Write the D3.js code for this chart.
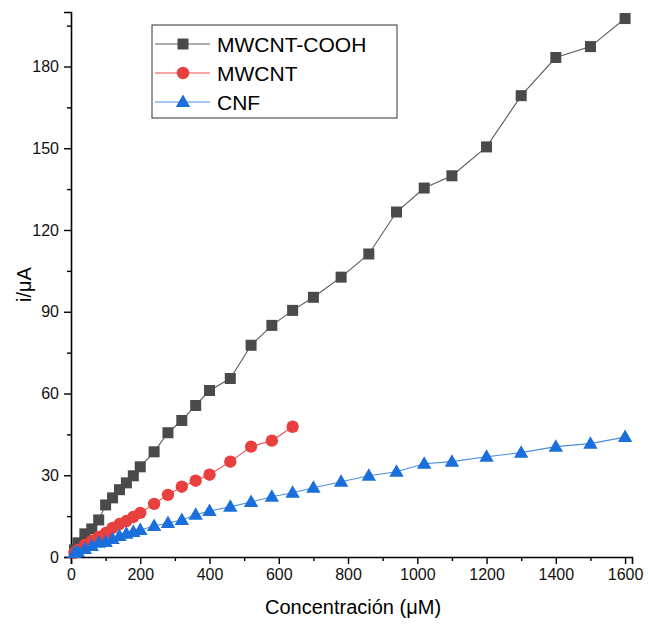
<!DOCTYPE html>
<html lang="en">
<head>
<meta charset="UTF-8">
<title>Concentración vs i</title>
<script src="https://d3js.org/d3.v7.min.js"></script>
<style>
  body { margin: 0; background: #fff; }
  text { font-family: "Liberation Sans", Arial, sans-serif; }
</style>
</head>
<body>
<svg id="chart" width="648" height="625"></svg>
<script>
// data
const concCOOH = [10, 20, 40, 60, 80, 100, 120, 140, 160, 180, 200, 240, 280, 320, 360, 400, 460, 520, 580, 640, 700, 780, 860, 940, 1020, 1100, 1200, 1300, 1400, 1500, 1600];
const iCOOH = [2.6, 5.2, 8.5, 10.3, 13.6, 19.1, 21.7, 24.7, 27.2, 29.8, 33.1, 38.6, 45.6, 50.1, 55.6, 61.1, 65.5, 77.7, 85.0, 90.5, 95.3, 102.7, 111.2, 126.6, 135.4, 139.9, 150.5, 169.3, 183.3, 187.3, 197.6];

const concMW = [10, 20, 40, 60, 80, 100, 120, 140, 160, 180, 200, 240, 280, 320, 360, 400, 460, 520, 580, 640];
const iMW = [1.5, 2.6, 4.4, 5.9, 7.4, 8.8, 10.7, 12.1, 13.2, 14.7, 16.2, 19.5, 22.8, 25.8, 28.0, 30.2, 35.0, 40.5, 42.7, 47.8];

const concCNF = [10, 20, 40, 60, 80, 100, 120, 140, 160, 180, 200, 240, 280, 320, 360, 400, 460, 520, 580, 640, 700, 780, 860, 940, 1020, 1100, 1200, 1300, 1400, 1500, 1600];
const iCNF = [1.5, 1.8, 2.9, 4.0, 5.2, 5.5, 6.6, 7.7, 8.5, 9.2, 9.9, 11.4, 12.5, 13.6, 15.5, 16.9, 18.4, 20.2, 22.1, 23.6, 25.4, 27.6, 29.8, 31.3, 34.2, 35.0, 36.8, 38.3, 40.5, 41.6, 44.0];

const xTicks = [0, 200, 400, 600, 800, 1000, 1200, 1400, 1600];
const yTicks = [0, 30, 60, 90, 120, 150, 180];

const series = [
  { name: "MWCNT-COOH", x: concCOOH, y: iCOOH, color: "#4a4a4a", line: "#5a5a5a", shape: "square" },
  { name: "MWCNT", x: concMW, y: iMW, color: "#e8403f", line: "#ef4b4b", shape: "circle" },
  { name: "CNF", x: concCNF, y: iCNF, color: "#1a6fdb", line: "#4a8ee4", shape: "triangle" }
];

const svg = d3.select("#chart");
const margin = { left: 71, top: 12, right: 16, bottom: 68 };
const W = 648, H = 625;

const x = d3.scaleLinear().domain([0, 1620]).range([margin.left, W - margin.right]);
const y = d3.scaleLinear().domain([0, 200]).range([H - margin.bottom, margin.top]);

// axes
const xAxis = svg.append("g")
  .attr("transform", `translate(0,${H - margin.bottom})`)
  .call(d3.axisBottom(x).tickValues(xTicks).tickSize(7).tickPadding(5).tickFormat(d3.format("d")));
svg.append("g")
  .attr("transform", `translate(0,${H - margin.bottom})`)
  .call(d3.axisBottom(x).tickValues(d3.range(100, 1620, 200)).tickSize(4).tickFormat(""))
  .select(".domain").remove();

const yAxis = svg.append("g")
  .attr("transform", `translate(${margin.left},0)`)
  .call(d3.axisLeft(y).tickValues(yTicks).tickSize(7).tickPadding(5));
svg.append("g")
  .attr("transform", `translate(${margin.left},0)`)
  .call(d3.axisLeft(y).tickValues(d3.range(15, 200, 30)).tickSize(4).tickFormat(""))
  .select(".domain").remove();

svg.selectAll(".domain").attr("stroke", "#000").attr("stroke-width", 1.6);
svg.selectAll(".tick line").attr("stroke", "#000").attr("stroke-width", 1.4);
svg.selectAll(".tick text").attr("font-size", 16).attr("fill", "#111")
  .style("font-family", "'Liberation Sans', Arial, sans-serif");

// axis titles
svg.append("text")
  .attr("x", (margin.left + x(1600)) / 2 + 5)
  .attr("y", 614)
  .attr("text-anchor", "middle")
  .attr("font-size", 20)
  .text("Concentración (μM)");

svg.append("text")
  .attr("transform", `translate(31,${y(100)}) rotate(-90)`)
  .attr("text-anchor", "middle")
  .attr("font-size", 20)
  .text("i/μA");

function marker(g, shape, color) {
  if (shape === "square") {
    g.append("rect").attr("x", -5.5).attr("y", -5.5).attr("width", 11).attr("height", 11).attr("fill", color);
  } else if (shape === "circle") {
    g.append("circle").attr("r", 6.2).attr("fill", color);
  } else {
    g.append("path").attr("d", "M0,-7.5L7.2,5L-7.2,5Z").attr("fill", color);
  }
}

const line = d3.line().x(d => x(d[0])).y(d => y(d[1]));

// draw CNF last? reference: blue on top of red on top of grey
series.forEach(s => {
  const pts = s.x.map((v, i) => [v, s.y[i]]);
  svg.append("path")
    .datum(pts)
    .attr("d", line)
    .attr("fill", "none")
    .attr("stroke", s.line)
    .attr("stroke-width", 1.1);
  const g = svg.append("g");
  pts.forEach(p => {
    const m = g.append("g").attr("transform", `translate(${x(p[0])},${y(p[1])})`);
    marker(m, s.shape, s.color);
  });
});

// legend
const leg = svg.append("g").attr("transform", "translate(152,25)");
leg.append("rect")
  .attr("width", 245).attr("height", 93)
  .attr("fill", "#fff").attr("stroke", "#333").attr("stroke-width", 1);
series.forEach((s, i) => {
  const ry = 19 + i * 29;
  leg.append("line").attr("x1", 3).attr("x2", 58).attr("y1", ry).attr("y2", ry)
    .attr("stroke", s.line).attr("stroke-width", 1.1);
  const m = leg.append("g").attr("transform", `translate(31,${ry})`);
  marker(m, s.shape, s.color);
  leg.append("text").attr("x", 65).attr("y", ry + 7.5)
    .attr("font-size", 21).text(s.name);
});
</script>
</body>
</html>
